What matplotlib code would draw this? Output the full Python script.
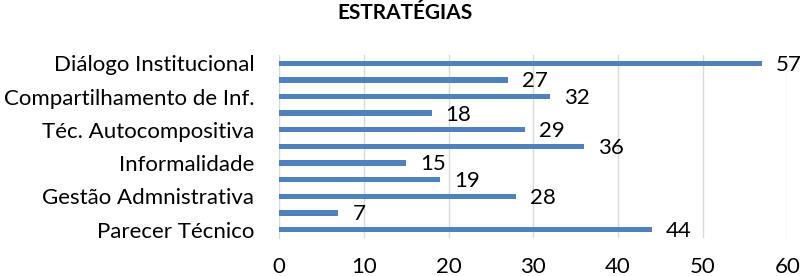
import matplotlib
matplotlib.use("Agg")
import matplotlib.pyplot as plt

categories = ["Diálogo Institucional", "", "Compartilhamento de Inf.", "",
              "Téc. Autocompositiva", "", "Informalidade", "",
              "Gestão Admnistrativa", "", "Parecer Técnico"]
values = [57, 27, 32, 18, 29, 36, 15, 19, 28, 7, 44]
xticks = [0, 10, 20, 30, 40, 50, 60]
title = "ESTRATÉGIAS"

plt.rcParams['font.family'] = ['Lato', 'DejaVu Sans']

fig = plt.figure(figsize=(8, 2.76), dpi=100)
ax = fig.add_axes([0.349, 0.138, 0.635, 0.663])

ypos = list(range(len(values)))
ax.barh(ypos, values, height=0.32, color="#4F81BD", zorder=3)
ax.set_ylim(len(values) - 0.5, -0.5)
ax.set_xlim(0, 60)
ax.set_xticks(xticks)
ax.set_xticklabels([str(t) for t in xticks], fontsize=16)
ax.set_yticks(ypos)
ax.set_yticklabels(categories, fontsize=16)
ax.tick_params(axis='both', length=0)
ax.tick_params(axis='x', pad=14)
ax.tick_params(axis='y', pad=18)
ax.grid(axis='x', color="#D9D9D9", linewidth=1, zorder=0)
for s in ['top', 'right', 'bottom']:
    ax.spines[s].set_visible(False)
ax.spines['left'].set_color("#D9D9D9")

for y, v in zip(ypos, values):
    ax.annotate(str(v), xy=(v, y), xytext=(10, -1), textcoords='offset points',
                ha='left', va='center', fontsize=16, annotation_clip=False)

fig.text(0.506, 0.953, title, ha='center', va='center', fontsize=15, fontweight='bold')

fig.savefig("out.png", dpi=100)
